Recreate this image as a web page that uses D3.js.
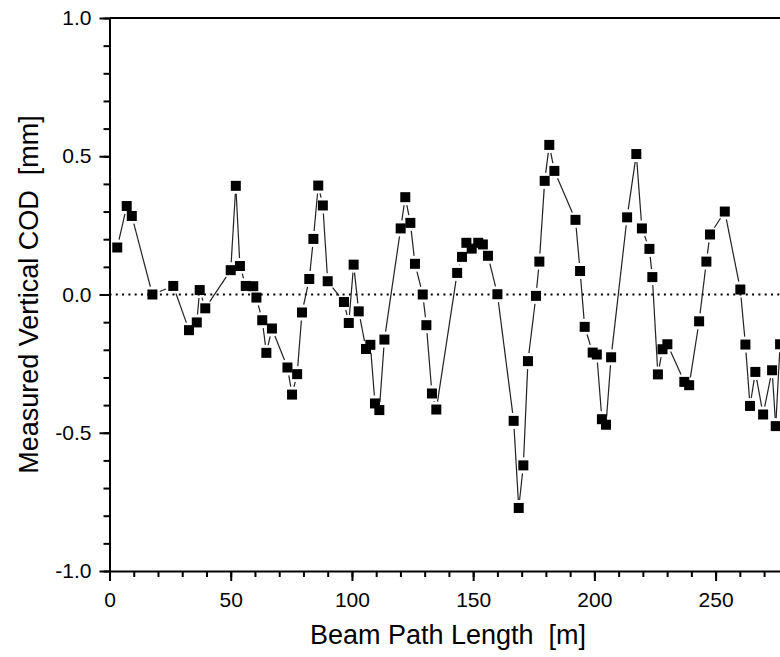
<!DOCTYPE html>
<html>
<head>
<meta charset="utf-8">
<script src="https://cdn.jsdelivr.net/npm/d3@7"></script>
<style>
  body { margin: 0; background: #fff; overflow: hidden; }
  text { font-family: "Liberation Sans", Arial, sans-serif; fill: #000; }
</style>
</head>
<body>
<div id="my_dataviz"></div>
<script>
// beam path length [m] and measured vertical COD [mm]
const pathLength = [3.2, 7.1, 9.2, 17.7, 26.3, 32.8, 36.0, 37.2, 39.5, 50.0,
  52.1, 53.8, 56.2, 59.3, 60.6, 63.0, 64.7, 67.0, 73.4, 75.3,
  77.4, 79.4, 82.4, 84.1, 86.1, 88.0, 90.0, 96.7, 98.7, 100.7,
  102.8, 105.8, 107.6, 109.5, 111.3, 113.4, 120.1, 122.0, 124.1, 126.0,
  129.2, 130.7, 133.0, 134.8, 143.4, 145.4, 147.2, 149.4, 152.1, 154.0,
  156.1, 160.0, 166.7, 168.8, 170.7, 172.6, 175.9, 177.3, 179.5, 181.4,
  183.5, 192.2, 194.1, 196.0, 199.3, 201.0, 203.1, 204.8, 206.9, 213.5,
  217.3, 219.6, 222.7, 223.9, 226.2, 228.1, 230.1, 237.1, 239.1, 243.2,
  246.2, 247.7, 253.8, 260.2, 262.3, 264.2, 266.4, 269.6, 273.3, 274.8, 276.6];
const cod = [0.170, 0.320, 0.284, 0.0, 0.031, -0.129, -0.101, 0.016, -0.050, 0.088,
  0.393, 0.103, 0.031, 0.030, -0.011, -0.093, -0.211, -0.123, -0.264, -0.362,
  -0.288, -0.065, 0.056, 0.201, 0.394, 0.322, 0.048, -0.027, -0.103, 0.108,
  -0.061, -0.197, -0.182, -0.394, -0.418, -0.163, 0.239, 0.352, 0.259, 0.111,
  0.0, -0.111, -0.358, -0.416, 0.078, 0.136, 0.187, 0.166, 0.187, 0.181,
  0.140, 0.001, -0.457, -0.772, -0.618, -0.241, -0.005, 0.119, 0.411, 0.541,
  0.447, 0.270, 0.085, -0.117, -0.210, -0.217, -0.451, -0.471, -0.227, 0.279,
  0.508, 0.239, 0.165, 0.063, -0.289, -0.198, -0.180, -0.316, -0.328, -0.097,
  0.119, 0.217, 0.300, 0.018, -0.181, -0.403, -0.280, -0.434, -0.274, -0.476, -0.180];

const xMajor = [0, 50, 100, 150, 200, 250];
const yMajor = [-1.0, -0.5, 0.0, 0.5, 1.0];

const width = 780, height = 657;
const plotLeft = 109.5, plotTop = 18, plotBottom = 571;

const svg = d3.select("#my_dataviz")
    .append("svg")
    .attr("width", width)
    .attr("height", height);

const x = d3.scaleLinear()
    .domain([0, 300])
    .range([plotLeft, plotLeft + 300 * 2.4244]);

const y = d3.scaleLinear()
    .domain([-1, 1])
    .range([plotBottom, plotTop]);

// dotted zero line
svg.append("line")
    .attr("x1", x(0)).attr("x2", x(300))
    .attr("y1", y(0)).attr("y2", y(0))
    .attr("stroke", "#000")
    .attr("stroke-width", 1.8)
    .attr("stroke-dasharray", "2,4.3");

// top frame
svg.append("line")
    .attr("x1", x(0)).attr("x2", x(300))
    .attr("y1", y(1)).attr("y2", y(1))
    .attr("stroke", "#000")
    .attr("stroke-width", 2);

// minor ticks
svg.append("g")
    .attr("transform", "translate(0," + plotBottom + ")")
    .call(d3.axisBottom(x).tickValues(d3.range(0, 301, 10)).tickSize(6).tickFormat(""))
    .call(g => g.select(".domain").remove());

svg.append("g")
    .attr("transform", "translate(" + plotLeft + ",0)")
    .call(d3.axisLeft(y).tickValues(d3.range(-10, 11).map(d => d / 10)).tickSize(6).tickFormat(""))
    .call(g => g.select(".domain").remove());

// major axes
const xAxis = svg.append("g")
    .attr("transform", "translate(0," + plotBottom + ")")
    .call(d3.axisBottom(x).tickValues(xMajor).tickSize(10).tickSizeOuter(0).tickPadding(11).tickFormat(d3.format("d")));

const yAxis = svg.append("g")
    .attr("transform", "translate(" + plotLeft + ",0)")
    .call(d3.axisLeft(y).tickValues(yMajor).tickSize(10).tickSizeOuter(0).tickPadding(8).tickFormat(d => d.toFixed(1)));

svg.selectAll(".domain, .tick line")
    .attr("stroke", "#000")
    .attr("stroke-width", 2);

xAxis.selectAll("text").style("font-size", "21px");
yAxis.selectAll("text").style("font-size", "21px");

// connecting line, drawn in pieces that stop short of the squares
const pts = pathLength.map((d, i) => [x(d), y(cod[i])]);
const gap = 8;
const segs = [];
for (let i = 0; i < pts.length - 1; i++) {
    const a = pts[i], b = pts[i + 1];
    const dx = b[0] - a[0], dy = b[1] - a[1];
    const len = Math.sqrt(dx * dx + dy * dy);
    if (len <= 2 * gap) continue;
    const ux = dx / len, uy = dy / len;
    segs.push([a[0] + ux * gap, a[1] + uy * gap, b[0] - ux * gap, b[1] - uy * gap]);
}

svg.append("g")
    .selectAll("line")
    .data(segs)
    .enter()
    .append("line")
    .attr("x1", d => d[0]).attr("y1", d => d[1])
    .attr("x2", d => d[2]).attr("y2", d => d[3])
    .attr("stroke", "#222")
    .attr("stroke-width", 1.2);

// square markers
svg.append("g")
    .selectAll("rect")
    .data(pathLength)
    .enter()
    .append("rect")
    .attr("x", d => x(d) - 5)
    .attr("y", (d, i) => y(cod[i]) - 5)
    .attr("width", 10)
    .attr("height", 10)
    .style("fill", "#000");

// axis titles
svg.append("text")
    .text("Beam Path Length  [m]")
    .attr("x", 448)
    .attr("y", 644)
    .attr("text-anchor", "middle")
    .style("font-size", "27px")
    .style("white-space", "pre");

svg.append("text")
    .text("Measured Vertical COD  [mm]")
    .attr("transform", "translate(38," + (plotTop + plotBottom) / 2 + ")rotate(-90)")
    .attr("text-anchor", "middle")
    .style("font-size", "27px")
    .style("white-space", "pre");
</script>
</body>
</html>
